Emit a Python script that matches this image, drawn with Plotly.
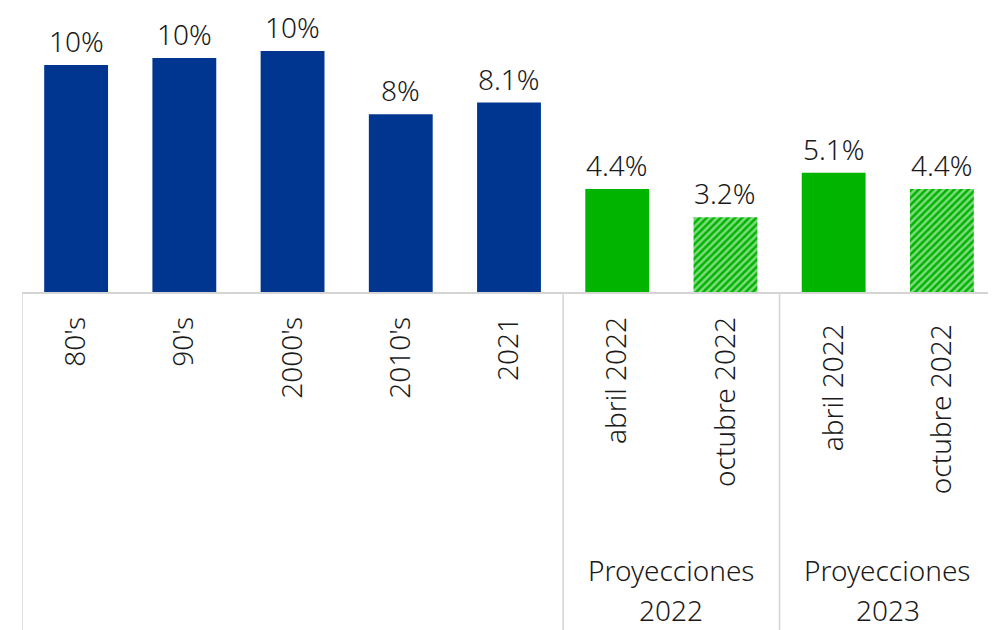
import plotly.graph_objects as go

# Data
categories = ["80's", "90's", "2000's", "2010's", "2021",
              "abril 2022", "octubre 2022", "abril 2022 ", "octubre 2022 "]
values = [9.7, 10.0, 10.3, 7.6, 8.1, 4.4, 3.2, 5.1, 4.4]
labels = ["10%", "10%", "10%", "8%", "8.1%", "4.4%", "3.2%", "5.1%", "4.4%"]
group_names = ["Proyecciones", "Proyecciones"]
group_years = ["2022", "2023"]

blue = "#00368F"
green = "#00B400"
colors = [blue] * 5 + [green] * 4
shapes_pat = ["", "", "", "", "", "", "/", "", "/"]
txt = "#1a1a1a"

fig = go.Figure()
fig.add_trace(go.Bar(
    x=categories, y=values,
    marker=dict(color=colors, line=dict(width=0),
                pattern=dict(shape=shapes_pat, fgcolor=green, bgcolor="white",
                             size=5, solidity=0.5)),
    width=0.59,
))

# value labels above the bars (x by category index so "2021" isn't read as a number)
annotations = []
for i, (v, lab) in enumerate(zip(values, labels)):
    annotations.append(dict(x=i, y=v, text=lab, showarrow=False,
                            yanchor="bottom", yshift=3,
                            font=dict(size=28, color=txt, weight=300)))

# group dividers below the axis
line_col = "#d4d4d4"
shapes = []
for xd in [-0.5, 4.5, 6.5]:
    shapes.append(dict(type="line", xref="x", yref="paper", x0=xd, x1=xd,
                       y0=0, y1=-1.25, line=dict(color=line_col, width=1.5)))

for i, xc in enumerate([5.5, 7.5]):
    annotations.append(dict(x=xc, y=-0.98, xref="x", yref="paper",
                            text=group_names[i], showarrow=False,
                            font=dict(size=28, color=txt, weight=300),
                            yanchor="middle"))
    annotations.append(dict(x=xc, y=-1.12, xref="x", yref="paper",
                            text=group_years[i], showarrow=False,
                            font=dict(size=28, color=txt, weight=300),
                            yanchor="middle"))

# page body has an 8px margin, so the figure is sized to fit the window
fig.update_layout(
    width=988, height=622,
    margin=dict(l=14, r=0, t=0, b=338),
    plot_bgcolor="white", paper_bgcolor="white",
    font=dict(family="Noto Sans", size=28, color=txt, weight=300),
    showlegend=False,
    shapes=shapes, annotations=annotations,
)
fig.update_xaxes(range=[-0.5, 8.5], tickangle=-90, showline=True,
                 linecolor=line_col, linewidth=1.5, ticks="", showgrid=False,
                 automargin=False, ticklabelstandoff=12,
                 tickfont=dict(size=28, weight=300))
fig.update_yaxes(range=[0, 12.14], visible=False, automargin=False)

fig.write_html("out.html")
